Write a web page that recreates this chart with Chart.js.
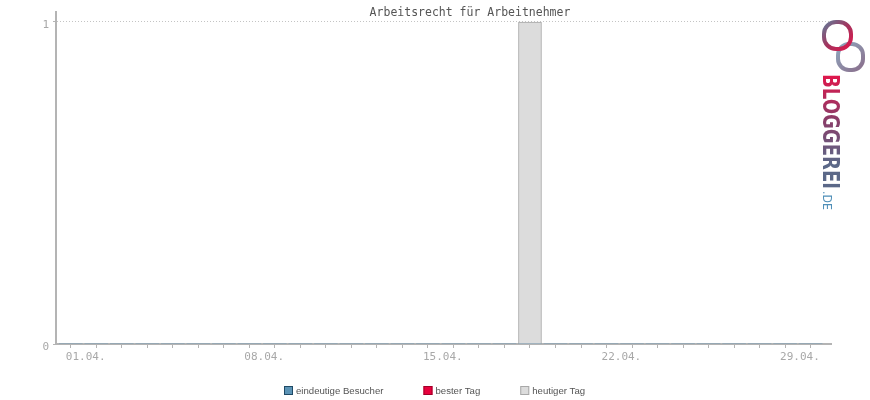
<!DOCTYPE html>
<html>
<head>
<meta charset="utf-8">
<script src="https://cdn.jsdelivr.net/npm/chart.js@4.4.0/dist/chart.umd.min.js"></script>
<style>
  html, body { margin: 0; padding: 0; background: #fff; }
</style>
</head>
<body>
<canvas id="chart" width="870" height="400"></canvas>
<script>
const chartTitle = 'Arbeitsrecht für Arbeitnehmer';
const days = ['01.04.', '02.04.', '03.04.', '04.04.', '05.04.', '06.04.', '07.04.', '08.04.', '09.04.', '10.04.',
  '11.04.', '12.04.', '13.04.', '14.04.', '15.04.', '16.04.', '17.04.', '18.04.', '19.04.', '20.04.',
  '21.04.', '22.04.', '23.04.', '24.04.', '25.04.', '26.04.', '27.04.', '28.04.', '29.04.', '30.04.'];
const uniqueVisitors = [0, 0, 0, 0, 0, 0, 0, 0, 0, 0, 0, 0, 0, 0, 0, 0, 0, 0, 0, 0, 0, 0, 0, 0, 0, 0, 0, 0, 0, 0];
const bestDay = [null, null, null, null, null, null, null, null, null, null, null, null, null, null, null,
  null, null, null, null, null, null, null, null, null, null, null, null, null, null, null];
const today = [null, null, null, null, null, null, null, null, null, null, null, null, null, null, null,
  null, null, null, 1, null, null, null, null, null, null, null, null, null, null, null];
const yTicks = [0, 1];
const shownDays = ['01.04.', '08.04.', '15.04.', '22.04.', '29.04.'];
const logoName = 'BLOGGEREI';
const logoTld = '.DE';

const toPoints = arr => arr.map((v, i) => ({ x: i, y: v }));

// title, legend and logo drawn on top
const extras = {
  id: 'extras',
  afterDraw(chart) {
    const ctx = chart.ctx;
    ctx.save();
    ctx.fillStyle = '#555555';
    ctx.font = '11.5px "DejaVu Sans Mono"';
    ctx.textAlign = 'center';
    ctx.textBaseline = 'middle';
    ctx.fillText(chartTitle, 470, 13);

    // legend
    ctx.font = '9.6px "Liberation Sans"';
    ctx.textAlign = 'left';
    const sets = chart.data.datasets;
    const widths = sets.map(d => 12 + ctx.measureText(d.label).width);
    const total = widths.reduce((a, b) => a + b, 0) + 40 * (sets.length - 1);
    let x = Math.round(435 - total / 2);
    sets.forEach((d, i) => {
      ctx.fillStyle = d.backgroundColor;
      ctx.fillRect(x, 386, 9, 9);
      ctx.strokeStyle = d.borderColor;
      ctx.lineWidth = 1;
      ctx.strokeRect(x + 0.5, 386.5, 8, 8);
      ctx.fillStyle = '#555';
      ctx.fillText(d.label, x + 12, 391);
      x += widths[i] + 40;
    });

    // logo
    const g1 = ctx.createLinearGradient(823, 21, 851, 50);
    g1.addColorStop(0, '#5f7f9c');
    g1.addColorStop(0.5, '#a2345e');
    g1.addColorStop(1, '#e3154b');
    const g3 = ctx.createLinearGradient(838, 44, 863, 70);
    g3.addColorStop(0, '#8fa6bd');
    g3.addColorStop(1, '#8a6f8c');
    ctx.lineWidth = 4;
    ctx.strokeStyle = g3;
    ctx.beginPath();
    ctx.roundRect(838, 44, 25, 26, 11);
    ctx.stroke();
    ctx.strokeStyle = g1;
    ctx.beginPath();
    ctx.roundRect(824, 22, 27, 27, 12);
    ctx.stroke();

    ctx.translate(823, 74);
    ctx.rotate(Math.PI / 2);
    ctx.font = 'bold 23px "DejaVu Sans"';
    ctx.textBaseline = 'alphabetic';
    const w = ctx.measureText(logoName).width;
    const g2 = ctx.createLinearGradient(0, 0, 115, 0);
    g2.addColorStop(0, '#e3154b');
    g2.addColorStop(0.5, '#8a3c68');
    g2.addColorStop(1, '#5b6888');
    ctx.save();
    ctx.scale(115 / w, 1);
    ctx.fillStyle = g2;
    ctx.fillText(logoName, 0, 0);
    ctx.restore();
    ctx.font = '13px "DejaVu Sans"';
    ctx.fillStyle = '#4f8fb8';
    const w2 = ctx.measureText(logoTld).width;
    ctx.save();
    ctx.translate(117, 0);
    ctx.scale(19 / w2, 1);
    ctx.fillText(logoTld, 0, 0);
    ctx.restore();
    ctx.restore();
  }
};

new Chart(document.getElementById('chart'), {
  type: 'bar',
  data: {
    datasets: [
      { label: 'eindeutige Besucher', data: toPoints(uniqueVisitors), backgroundColor: '#5b93b5', borderColor: '#1f4a66', borderWidth: 0 },
      { label: 'bester Tag', data: toPoints(bestDay), backgroundColor: '#e8003d', borderColor: '#a00028', borderWidth: 0 },
      { label: 'heutiger Tag', data: toPoints(today), backgroundColor: '#dcdcdc', borderColor: '#a8a8a8', borderWidth: 1, borderSkipped: 'start' }
    ]
  },
  options: {
    responsive: false,
    animation: false,
    devicePixelRatio: 1,
    grouped: false,
    barThickness: 23,
    layout: { padding: { left: 0, right: 39, top: 12, bottom: 26 } },
    plugins: { legend: { display: false }, title: { display: false }, tooltip: { enabled: false } },
    scales: {
      x: {
        type: 'linear',
        min: -0.58,
        max: 29.8,
        offset: false,
        z: 1,
        afterBuildTicks: s => { s.ticks = days.map((d, i) => ({ value: i })); },
        afterFit: s => { s.height = 30; },
        ticks: {
          autoSkip: false, maxRotation: 0, align: 'start', labelOffset: -5, padding: 3,
          color: '#a8a8a8', font: { family: 'DejaVu Sans Mono', size: 11 },
          callback: v => shownDays.includes(days[v]) ? days[v] : ''
        },
        grid: { drawOnChartArea: false, offset: false, tickLength: 4, tickColor: '#b4b4b4' },
        border: { color: '#b4b4b4', width: 2 }
      },
      y: {
        min: 0,
        max: 1.031,
        afterBuildTicks: s => { s.ticks = yTicks.map(v => ({ value: v })); },
        afterFit: s => { s.width = 56; },
        ticks: { color: '#a8a8a8', font: { family: 'DejaVu Sans Mono', size: 11 }, padding: 4, labelOffset: 3 },
        grid: {
          color: c => (c.tick && c.tick.value === 1) ? '#c4c4c4' : 'rgba(0,0,0,0)',
          tickColor: '#b4b4b4', tickLength: 3, lineWidth: 1
        },
        border: { color: '#b4b4b4', width: 2, dash: [1, 2] }
      }
    }
  },
  plugins: [extras]
});
</script>
</body>
</html>
